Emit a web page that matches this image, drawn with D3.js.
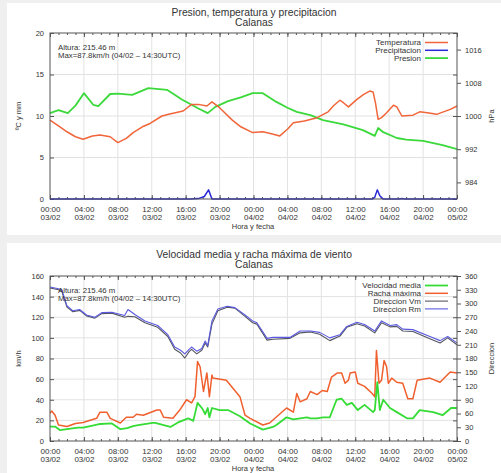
<!DOCTYPE html>
<html><head><meta charset="utf-8">
<script src="https://cdn.jsdelivr.net/npm/d3@7"></script>
<style>
body{margin:0;background:#efefef;}
svg{display:block;font-family:"Liberation Sans",Arial,Helvetica,sans-serif;}
</style></head><body>
<svg id="c" width="501" height="473"></svg>
<script>
// x axis: hours since 00:00 03/02
const hourTicks = [0,4,8,12,16,20,24,28,32,36,40,44,48];
const timeLabels = ["00:00","04:00","08:00","12:00","16:00","20:00","00:00","04:00","08:00","12:00","16:00","20:00","00:00"];
const dateLabels = ["03/02","03/02","03/02","03/02","03/02","03/02","04/02","04/02","04/02","04/02","04/02","04/02","05/02"];

// Temperatura (ºC)
const tempHours = [0,1,2,3,3.9,5,5.9,7.1,8,9,9.8,10.9,11.8,13.2,14,15.7,16.7,17.5,18.5,19.1,20,21.5,22.5,23.9,25.1,26,27.1,28,28.7,30,31.5,32.8,33.5,34.2,34.6,35.2,36.2,37,37.7,38.1,38.4,38.7,39.1,39.7,40.5,40.9,41.5,42.8,43.6,44.5,45.6,47.2,48];
const tempValues = [9.5,8.8,8.1,7.5,7.2,7.6,7.7,7.5,6.8,7.3,8.0,8.7,9.1,10.0,10.2,10.6,11.4,11.4,11.2,11.7,11.0,9.5,8.7,8.0,8.1,7.9,7.6,8.4,9.2,9.4,9.8,10.5,11.3,11.9,11.6,11.1,12.0,12.6,13.0,12.9,11.5,9.6,9.8,10.4,11.3,11.1,10.0,10.1,10.5,10.4,10.2,10.8,11.2];

// Precipitacion (mm)
const precHours = [0,16.5,17.5,18.2,18.7,19.1,38.0,38.3,38.6,38.9,39.3,41.2,41.5,41.8,48];
const precValues = [0,0,0.05,0.3,1.1,0,0,0.2,1.1,0.4,0,0,0.06,0,0];

// Presion (hPa)
const presHours = [0,1,2.1,3,4,5.1,5.7,7.1,8,9.7,11.6,13.8,15.6,16.7,17.5,18.6,19.5,21,22.5,23.9,25.1,26.7,28,29.1,30.7,32.2,34.6,36.9,38.3,38.7,39.3,40.9,42,44,46.3,48];
const presValues = [1000.7,1001.4,1000.7,1002.5,1005.5,1002.7,1002.4,1005.3,1005.4,1005.1,1006.7,1006.3,1003.9,1002.7,1001.8,1000.7,1002.2,1003.6,1004.5,1005.5,1005.5,1003.4,1002.0,1001.0,1000.2,999.0,998.0,996.6,995.2,997.1,996.1,994.7,994.3,994.0,993.0,992.0];

// Velocidad media (km/h)
const speedHours = [0,0.6,1.2,2,3.3,3.9,5.3,5.9,7.3,8.3,9.1,9.8,10.4,12.1,12.4,14.2,15.1,15.7,16.3,16.9,17.4,17.7,18,18.3,18.6,18.8,19.1,20,21,22.4,23.6,25.1,26.3,26.7,27.9,28.7,30.3,30.7,31.5,32.2,33,33.8,34.4,35,35.6,36.3,37.1,38.1,38.3,38.6,38.9,39.3,40.1,40.9,42.1,42.8,43.6,45.2,46.3,47.3,48];
const speedValues = [14,14,10.5,11.5,13,13,15.5,16.5,17,11.5,12.5,14.5,15.5,17.5,17.5,13.6,18,20,22,19.5,37,34,31,26,32,23,32,30,30,24,17,11,13.6,15.5,23,21,23,22,22,23,23,40,41,35,37,30,35,28,30,57,30,40,32,28,22,22,30,28,25,32,32];

// Racha maxima (km/h)
const gustHours = [0,0.2,0.6,1,2,3,3.9,5.5,5.9,6.7,7.1,8.3,9,9.8,10.2,11,12.6,13,13.4,14.5,15.3,16.1,16.7,17.1,17.4,17.7,18.1,18.5,18.8,19.1,19.2,20.8,22.4,23,23.6,25.1,25.9,27.9,28.7,29.1,29.5,30.3,30.7,31.5,32.1,32.7,33.2,33.9,34.4,34.8,35.2,35.4,36,36.3,37.1,38,38.3,38.5,38.8,39.1,39.4,39.7,39.9,40.3,40.9,41.6,42.2,42.8,43.3,44.8,46,47.2,48];
const gustValues = [27,29,25,15.5,14,17,18,22,28,28,22,17.5,23,23,26,25,30,30,23,22,30,40,37,43,77,72,48,66,43,64,61,59,43,25,22,15.5,17.5,32,28,46,38,41,48,45,49,48,62,66,66,56,59,66,67,56,53,46,43,87.8,56,59,78,72,56,61,57,56,41,41,59,61,57,67,66];

// Direccion Vm / Direccion Rm (grados)
const dirHours = [0,1,1.4,2,2.7,3.5,4.3,5.3,6.1,7.3,8.8,9.2,10,11.2,12.7,13.9,14.7,15.4,15.9,16.4,16.7,17.3,17.9,18.3,18.6,19.1,19.8,20.9,21.8,23,23.9,24.4,25.6,26.3,28.3,29.5,30.7,31.8,33,34.2,35,36.2,37.1,38.3,39.1,40.1,40.9,41.6,42.8,44.8,46,46.9,48];
const dirVmValues = [334,330,326,292,282,285,273,268,278,279,270,272,271,258,248,228,200,192,181,195,200,190,198,214,205,255,284,292,290,272,258,255,220,222,224,236,238,233,219,229,248,256,251,236,258,249,250,240,239,223,214,225,210];
const dirRmValues = [336,332,330,295,284,287,275,270,280,281,274,287,276,262,252,232,205,198,190,200,205,196,202,218,208,262,288,294,291,275,262,258,224,226,226,240,240,237,225,232,250,259,254,240,262,252,254,244,243,228,219,228,214];

const svg = d3.select("#c");
const ink = "#333";
const x0 = 50, x1 = 457;

function drawPanel(p) {
  const g = svg.append("g");
  g.append("rect").attr("x", 7).attr("y", p.panelTop).attr("width", 494).attr("height", p.panelH).attr("fill", "#fff");

  const x = d3.scaleLinear([0, 48], [x0, x1]);
  const yL = d3.scaleLinear(p.leftDomain, [p.bottom, p.top]);
  const yR = d3.scaleLinear(p.rightDomain, [p.bottom, p.top]);

  // grid
  const grid = g.append("g").attr("stroke", "#e2e2e2").attr("stroke-width", 1);
  hourTicks.slice(1, -1).forEach(h => grid.append("line").attr("x1", x(h)).attr("x2", x(h)).attr("y1", p.top).attr("y2", p.bottom));
  p.leftTicks.slice(1, -1).forEach(v => grid.append("line").attr("x1", x0).attr("x2", x1).attr("y1", yL(v)).attr("y2", yL(v)));

  // axes
  const hours = d3.range(0, 49, 1);
  const styleAxis = sel => {
    sel.select(".domain").remove();
    sel.selectAll("line").attr("stroke", "#555");
    sel.selectAll("text").attr("fill", ink).attr("font-size", 7.5).attr("font-family", "Liberation Sans, Arial, sans-serif");
  };
  g.append("g").attr("transform", `translate(0,${p.bottom})`)
    .call(d3.axisBottom(x).tickValues(hours).tickSize(-2).tickFormat("")).call(styleAxis);
  g.append("g").attr("transform", `translate(0,${p.top})`)
    .call(d3.axisTop(x).tickValues(hours).tickSize(-2).tickFormat("")).call(styleAxis);
  g.append("g").attr("transform", `translate(0,${p.top})`)
    .call(d3.axisTop(x).tickValues(hourTicks).tickSize(-4).tickFormat("")).call(styleAxis);
  const xa = g.append("g").attr("transform", `translate(0,${p.bottom})`)
    .call(d3.axisBottom(x).tickValues(hourTicks).tickSize(-4).tickPadding(7).tickFormat((d, i) => timeLabels[i]))
    .call(styleAxis);
  xa.selectAll("text").attr("font-size", 8).each(function (d, i) {
    const t = d3.select(this);
    t.text(null);
    t.append("tspan").attr("x", 0).text(timeLabels[i]);
    t.append("tspan").attr("x", 0).attr("dy", "1.1em").text(dateLabels[i]);
  });
  g.append("g").attr("transform", `translate(${x0},0)`)
    .call(d3.axisLeft(yL).tickValues(p.leftTicks).tickSize(-4).tickPadding(6).tickFormat(d3.format("d"))).call(styleAxis);
  g.append("g").attr("transform", `translate(${x1},0)`)
    .call(d3.axisLeft(yL).tickValues(p.leftTicks).tickSize(4).tickFormat("")).call(styleAxis);
  g.append("g").attr("transform", `translate(${x1},0)`)
    .call(d3.axisRight(yR).tickValues(p.rightTicks).tickSize(4).tickPadding(4).tickFormat(d3.format("d"))).call(styleAxis);

  // series
  const layer = g.append("g");
  p.series.forEach(s => {
    const line = d3.line().x(d => x(d[0])).y(d => (s.axis === "right" ? yR : yL)(d[1]));
    layer.append("path").datum(d3.zip(s.hours, s.values))
      .attr("d", line).attr("fill", "none").attr("stroke", s.color)
      .attr("stroke-width", s.width).attr("stroke-linejoin", "round");
  });

  // frame
  g.append("rect").attr("x", x0).attr("y", p.top).attr("width", x1 - x0).attr("height", p.bottom - p.top)
    .attr("fill", "none").attr("stroke", "#555").attr("stroke-width", 1);

  // titles
  const cx = 254;
  g.append("text").attr("x", cx).attr("y", p.titleY).attr("text-anchor", "middle").attr("font-size", 10.3).attr("fill", ink).text(p.title);
  g.append("text").attr("x", cx).attr("y", p.titleY + 10).attr("text-anchor", "middle").attr("font-size", 10.3).attr("fill", ink).text("Calanas");
  g.append("text").attr("x", 253).attr("y", p.bottom + 30).attr("text-anchor", "middle").attr("font-size", 7.5).attr("fill", ink).text("Hora y fecha");
  const my = (p.top + p.bottom) / 2;
  g.append("text").attr("transform", `translate(21,${my}) rotate(-90)`).attr("text-anchor", "middle").attr("font-size", 7.5).attr("fill", ink).text(p.leftLabel);
  g.append("text").attr("transform", `translate(494,${my}) rotate(-90)`).attr("text-anchor", "middle").attr("font-size", 7.5).attr("fill", ink).text(p.rightLabel);

  // station annotation
  g.append("text").attr("x", 58).attr("y", p.top + 17).attr("font-size", 7.8).attr("fill", ink).text("Altura: 215.46 m");
  g.append("text").attr("x", 58).attr("y", p.top + 25).attr("font-size", 7.8).attr("fill", ink).text("Max=87.8km/h (04/02 \u2013 14:30UTC)");

  // legend
  p.series.slice().sort((a, b) => a.legendOrder - b.legendOrder).forEach((s, i) => {
    const ly = p.top + 9.5 + i * 7.8;
    g.append("text").attr("x", 421).attr("y", ly + 2.8).attr("text-anchor", "end").attr("font-size", 8).attr("fill", ink).text(s.name);
    g.append("line").attr("x1", 425).attr("x2", 448).attr("y1", ly).attr("y2", ly).attr("stroke", s.color).attr("stroke-width", s.width);
  });
}

drawPanel({
  panelTop: 3, panelH: 232, top: 33, bottom: 199, titleY: 16,
  title: "Presion, temperatura y precipitacion",
  leftDomain: [0, 20], leftTicks: [0, 5, 10, 15, 20],
  rightDomain: [980, 1020], rightTicks: [984, 992, 1000, 1008, 1016],
  leftLabel: "\u00baC y mm", rightLabel: "hPa",
  series: [
    { name: "Presion", hours: presHours, values: presValues, axis: "right", color: "#3bd93b", width: 1.8, legendOrder: 2 },
    { name: "Temperatura", hours: tempHours, values: tempValues, axis: "left", color: "#f0663a", width: 1.5, legendOrder: 0 },
    { name: "Precipitacion", hours: precHours, values: precValues, axis: "left", color: "#2a2ad6", width: 1.5, legendOrder: 1 }
  ]
});

drawPanel({
  panelTop: 243, panelH: 230, top: 276, bottom: 441, titleY: 258,
  title: "Velocidad media y racha m\u00e1xima de viento",
  leftDomain: [0, 160], leftTicks: [0, 20, 40, 60, 80, 100, 120, 140, 160],
  rightDomain: [0, 360], rightTicks: [0, 30, 60, 90, 120, 150, 180, 210, 240, 270, 300, 330, 360],
  leftLabel: "km/h", rightLabel: "Direccion",
  series: [
    { name: "Direccion Vm", hours: dirHours, values: dirVmValues, axis: "right", color: "#555560", width: 1.1, legendOrder: 2 },
    { name: "Direccion Rm", hours: dirHours, values: dirRmValues, axis: "right", color: "#5a5ae0", width: 1.1, legendOrder: 3 },
    { name: "Racha m\u00e1xima", hours: gustHours, values: gustValues, axis: "left", color: "#f0602e", width: 1.5, legendOrder: 1 },
    { name: "Velocidad media", hours: speedHours, values: speedValues, axis: "left", color: "#35dc35", width: 1.8, legendOrder: 0 }
  ]
});
</script>
</body></html>
